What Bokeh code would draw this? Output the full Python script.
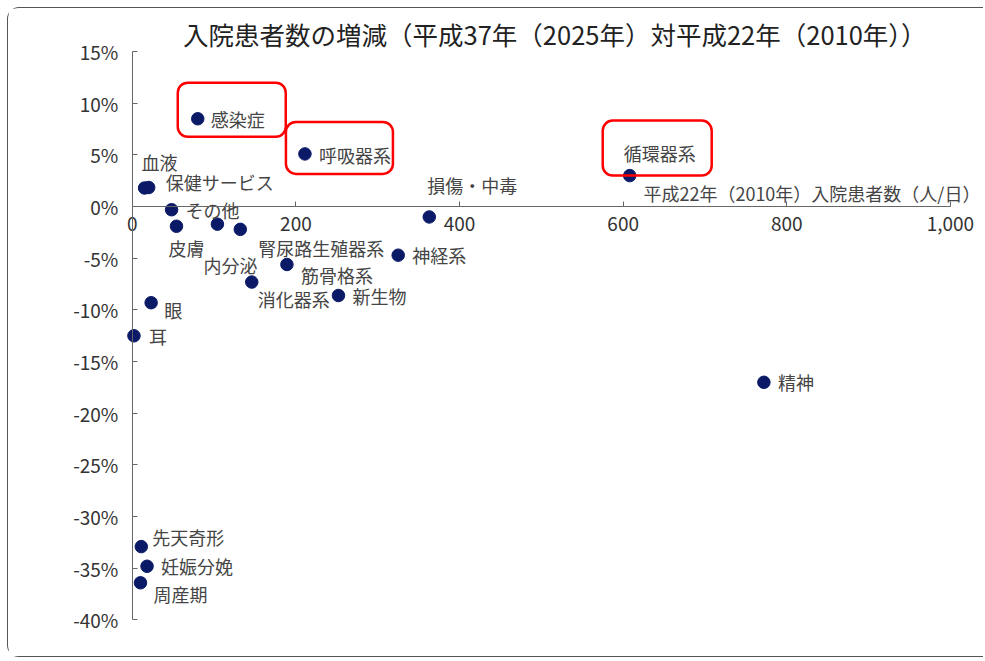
from bokeh.plotting import figure
from bokeh.models import (Range1d, FixedTicker, NumeralTickFormatter, PrintfTickFormatter,
                          Label, BoxAnnotation, ColumnDataSource)
from bokeh.embed import file_html
from bokeh.resources import INLINE
from bokeh.core.properties import value

# ---- data ----
categories = ["感染症", "呼吸器系", "循環器系", "血液", "保健サービス", "その他", "皮膚",
              "内分泌", "腎尿路生殖器系", "筋骨格系", "消化器系", "新生物", "神経系",
              "損傷・中毒", "眼", "耳", "先天奇形", "妊娠分娩", "周産期", "精神"]
inpatients_2010 = [80, 211, 608, 15, 20, 48, 54, 104, 132, 189, 146, 252, 325,
                   363, 23, 2, 11, 18, 10, 772]
change_pct = [8.5, 5.1, 3.0, 1.8, 1.85, -0.3, -1.9, -1.7, -2.2, -5.6, -7.3, -8.6, -4.7,
              -1.0, -9.3, -12.5, -32.9, -34.8, -36.4, -17.0]
highlighted = ["感染症", "呼吸器系", "循環器系"]
x_ticks = [0, 200, 400, 600, 800, 1000]
y_ticks = [-40, -35, -30, -25, -20, -15, -10, -5, 0, 5, 10, 15]
title_text = "入院患者数の増減（平成37年（2025年）対平成22年（2010年））"
x_title = "平成22年（2010年）入院患者数（人/日）"

# ---- layout (label offsets in screen px) ----
label_dx = [13, 14, -6, -3, 17, 14, -8, -14, 18, 14, 6, 14, 14, -2, 13, 15, 11, 14, 13, 14]
label_dy = [0, 1, -23, -26, -6, 0, 22, 41, 19, 11, 17, 1, 0, -32, 7, 0, -10, 0, 11, 0]
box_pad = {"感染症": (20, 88, 36, 18), "呼吸器系": (19, 88, 32, 20), "循環器系": (27, 82, 55, 0)}

FONT = "Noto Sans CJK JP"
XMIN, XMAX = 0, 1000
YMIN, YMAX = -40, 15
VX0, VX1 = -100, 1038      # visible range (room for tick labels and titles)
VY0, VY1 = -41.5, 18.3
FW, FH = 931, 618
px_x = FW / (VX1 - VX0)
px_y = FH / (VY1 - VY0)

p = figure(frame_width=FW, frame_height=FH, output_backend="svg", toolbar_location=None,
           x_range=Range1d(VX0, VX1), y_range=Range1d(VY0, VY1),
           min_border_left=42, min_border_right=2, min_border_top=9, min_border_bottom=21)
p.outline_line_color = None
p.grid.visible = False
p.background_fill_color = "white"
p.border_fill_color = "white"

# axes crossing at the origin
xa = p.xaxis[0]
xa.fixed_location = 0
xa.bounds = (XMIN, XMAX)
xa.ticker = FixedTicker(ticks=x_ticks)
xa.formatter = NumeralTickFormatter(format="0,0")
ya = p.yaxis[0]
ya.fixed_location = 0
ya.bounds = (YMIN, YMAX)
ya.ticker = FixedTicker(ticks=y_ticks)
ya.formatter = PrintfTickFormatter(format="%d%%")
for ax in (xa, ya):
    ax.axis_line_color = "#666666"
    ax.major_tick_line_color = "#666666"
    ax.major_tick_in = 5
    ax.major_tick_out = 0
    ax.minor_tick_line_color = None
    ax.major_label_text_font = FONT
    ax.major_label_text_font_size = "19px"
    ax.major_label_text_color = "#333333"
xa.major_label_standoff = 10
ya.major_label_standoff = 14

src = ColumnDataSource(dict(x=inpatients_2010, y=change_pct, name=categories,
                            dx=label_dx, dy=label_dy))
p.scatter("x", "y", source=src, size=12.5, fill_color="#0a1a66", line_color="#0a1a66")
p.text("x", "y", text="name", source=src, x_offset="dx", y_offset="dy",
       text_font=value(FONT), text_font_size="18px", text_color="#454545",
       text_align="left", text_baseline="middle")

for cat in highlighted:
    i = categories.index(cat)
    l, r, u, d = box_pad[cat]
    x0, y0 = inpatients_2010[i], change_pct[i]
    p.add_layout(BoxAnnotation(left=x0 - l / px_x, right=x0 + r / px_x,
                               top=y0 + u / px_y, bottom=y0 - d / px_y,
                               fill_alpha=0, line_color="#ff0000", line_alpha=1,
                               line_width=2.5, border_radius=10))

p.add_layout(Label(x=XMAX, y=0, text=x_title, x_offset=30, y_offset=14,
                   text_align="right", text_baseline="middle", text_font=FONT,
                   text_font_size="18px", text_color="#454545"))
p.add_layout(Label(x=(554 - 131.5) / px_x, y=YMAX + 18.5 / px_y, text=title_text,
                   text_align="center", text_baseline="middle", text_font=FONT,
                   text_font_size="25.5px", text_color="#222222"))

p.styles = {"margin-left": "7px", "margin-top": "7px",
            "border-left": "1px solid #555555", "border-top": "1px solid #555555",
            "border-bottom": "1px solid #555555", "border-top-left-radius": "12px",
            "border-bottom-left-radius": "12px"}

open("out.html", "w").write(file_html(p, INLINE))
